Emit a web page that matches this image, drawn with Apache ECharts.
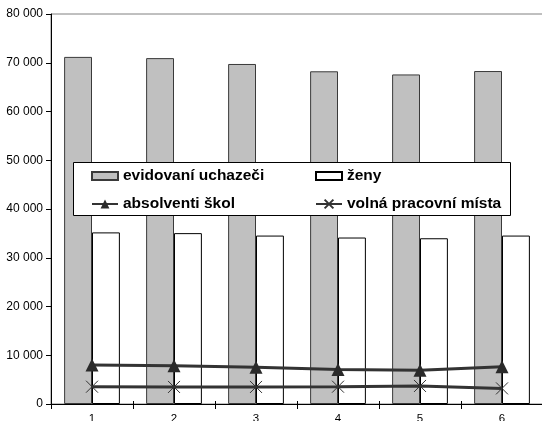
<!DOCTYPE html>
<html>
<head>
<meta charset="utf-8">
<script src="https://cdn.jsdelivr.net/npm/echarts@6/dist/echarts.min.js"></script>
<style>
html,body{margin:0;padding:0;background:#fff;}
#chart{width:542px;height:421px;}
</style>
</head>
<body>
<div id="chart"></div>
<script>
const categories = ['1', '2', '3', '4', '5', '6'];
const evidovaniUchazeci = [71200, 70950, 69750, 68250, 67600, 68300];
const zeny = [35200, 35050, 34550, 34150, 34000, 34550];
const absolventiSkol = [8000, 7850, 7550, 7100, 6900, 7650];
const volnaPracovniMista = [3550, 3500, 3500, 3550, 3700, 3200];
const yTicks = { min: 0, max: 80000, interval: 10000 };

const font = 'Liberation Sans, Arial, sans-serif';
const fmt = v => String(v).replace(/\B(?=(\d{3})+(?!\d))/g, ' ');

const chart = echarts.init(document.getElementById('chart'), null, { renderer: 'canvas' });
chart.setOption({
  animation: false,
  backgroundColor: '#fff',
  grid: {
    left: 51, right: -1, top: 14, bottom: 17,
    containLabel: false, outerBoundsMode: 'none',
    show: true, borderColor: '#808080', borderWidth: 1, backgroundColor: 'transparent'
  },
  xAxis: [{
    type: 'category',
    data: categories,
    axisLine: { lineStyle: { color: '#000', width: 1 } },
    axisTick: { show: true, length: 5, inside: false, alignWithLabel: false, lineStyle: { color: '#000' } },
    axisLabel: { color: '#000', fontSize: 11.5, fontFamily: font, margin: 9 },
    splitLine: { show: false }
  }, {
    type: 'category',
    data: categories,
    position: 'bottom',
    axisLine: { show: false },
    axisTick: { show: true, length: 3, inside: true, alignWithLabel: false, lineStyle: { color: '#000' } },
    axisLabel: { show: false },
    splitLine: { show: false }
  }],
  yAxis: {
    type: 'value',
    min: yTicks.min, max: yTicks.max, interval: yTicks.interval,
    axisLine: { show: true, lineStyle: { color: '#000', width: 1 } },
    axisTick: { show: true, length: 5, inside: false, lineStyle: { color: '#000' } },
    axisLabel: { color: '#000', fontSize: 12, fontFamily: font, margin: 8, formatter: fmt },
    splitLine: { show: false }
  },
  legend: {
    left: 91, top: 168, width: 440,
    orient: 'horizontal',
    itemGap: 12, itemWidth: 26, itemHeight: 11,
    padding: 0,
    selectedMode: false,
    textStyle: { fontSize: 15.5, fontWeight: 'bold', fontFamily: font, color: '#000', width: 180, lineHeight: 15, overflow: 'none' },
    data: [
      { name: 'evidovaní uchazeči', icon: 'path://M0,0h26v8h-26z' },
      { name: 'ženy', icon: 'path://M0,0h26v8h-26z' },
      { name: 'absolventi škol' },
      { name: 'volná pracovní místa' }
    ]
  },
  graphic: [{
    type: 'rect',
    left: 73, top: 162, z: 3,
    shape: { width: 437, height: 53 },
    style: { fill: '#fff', stroke: '#000', lineWidth: 1 }
  }],
  series: [
    {
      name: 'evidovaní uchazeči', type: 'bar', data: evidovaniUchazeci,
      barGap: '0%', barCategoryGap: '32%',
      itemStyle: { color: '#C0C0C0', borderColor: '#3a3a3a', borderWidth: 1 }
    },
    {
      name: 'ženy', type: 'bar', data: zeny,
      barGap: '0%', barCategoryGap: '32%',
      itemStyle: { color: '#FFFFFF', borderColor: '#000', borderWidth: 1 }
    },
    {
      name: 'absolventi škol', type: 'line', data: absolventiSkol, z: 5,
      symbol: 'triangle', symbolSize: 13,
      lineStyle: { color: '#333', width: 3 },
      itemStyle: { color: '#2a2a2a', borderColor: '#2a2a2a', borderWidth: 0 }
    },
    {
      name: 'volná pracovní místa', type: 'line', data: volnaPracovniMista, z: 5,
      symbol: 'path://M0,0L10,10M10,0L0,10', symbolSize: 12,
      lineStyle: { color: '#333', width: 3 },
      itemStyle: { color: 'none', borderColor: '#333', borderWidth: 1 }
    }
  ]
});
</script>
</body>
</html>
